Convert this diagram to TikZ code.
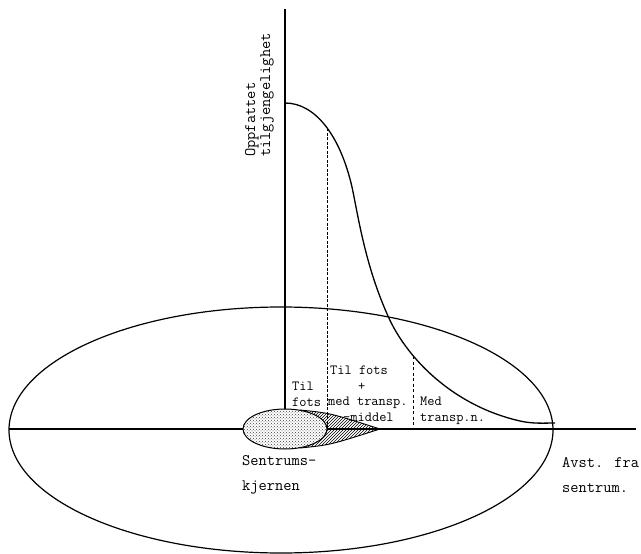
\documentclass[tikz,border=0pt]{standalone}
\usepackage{fontspec}
\usetikzlibrary{patterns}

\begin{document}
\begin{tikzpicture}[
  x=1pt,
  y=-1pt,
  font=\ttfamily,
  axis/.style={
    draw=black,
    line width=1.1pt
  },
  ring/.style={
    draw=black,
    line width=1.2pt
  },
  falloff/.style={
    draw=black,
    line width=1.3pt
  },
  zonelimit/.style={
    draw=black,
    line width=0.7pt,
    dash pattern=on 3pt off 1.5pt
  },
  outerlimit/.style={
    zonelimit,
    line width=0.5pt,
    dash pattern=on 3pt off 2.5pt
  },
  zonetext/.style={
    inner sep=0pt,
    anchor=north west,
    align=left,
    font=\ttfamily\fontsize{14}{15.5}\selectfont
  },
  axistext/.style={
    zonetext,
    font=\ttfamily\fontsize{16}{25}\selectfont
  }
]
\useasboundingbox (0,0) rectangle (641,554);

% Axes
\coordinate (origin) at (285,429);
\coordinate (ytop) at (285,9);
\coordinate (xleft) at (9,429);
\coordinate (xright) at (636,429);
\draw[axis] (origin) -- (ytop);
\draw[axis] (xleft) -- (xright);

% Town seen from above
\draw[ring] (281,430) ellipse [x radius=272pt, y radius=123pt];

% Perceived accessibility against distance
\draw[falloff] (285,103) .. controls (315,103) and (340,135) .. (352,187)
  .. controls (358,215) and (365,265) .. (388,316)
  .. controls (405,355) and (450,405) .. (520,421)
  .. controls (533,424) and (545,423) .. (555,423);

% Zone limits
\coordinate (walkend) at (327,128);
\coordinate (mixedend) at (413,356);
\draw[zonelimit] (walkend) -- (walkend |- origin);
\draw[outerlimit] (mixedend) -- (mixedend |- origin);

% Town core with its tail
\fill[pattern=north east lines] (300,410) .. controls (330,413) .. (380,429)
  .. controls (330,445) .. (300,448) -- cycle;
\fill[white] (285,429) ellipse [x radius=42pt, y radius=20pt];
\fill[pattern=crosshatch dots, pattern color=black!75]
  (285,429) ellipse [x radius=42pt, y radius=20pt];
\draw[line width=1pt] (285,429) ellipse [x radius=42pt, y radius=20pt];
\draw[line width=0.9pt] (300,410) .. controls (330,413) .. (380,429)
  .. controls (330,445) .. (300,448);

% Labels
\node[zonetext, rotate=90, anchor=south west,
  font=\ttfamily\fontsize{16}{15}\selectfont] (accessibility) at (274,157)
  {Oppfattet\\tilgjengelighet};
\node[zonetext] (walkzone) at (292,382) {Til\\fots};
\node[zonetext] (mixedzone) at (328,366)
  {\hspace*{2pt}Til fots\\\hspace*{30pt}+\\med transp.\\\hspace*{15pt}-middel};
\node[zonetext] (transitzone) at (420,397) {Med\\transp.n.};
\node[axistext] (core) at (242,455) {Sentrums-\\kjernen};
\node[axistext] (distance) at (562,457) {Avst. fra\\sentrum.};

\end{tikzpicture}
\end{document}
